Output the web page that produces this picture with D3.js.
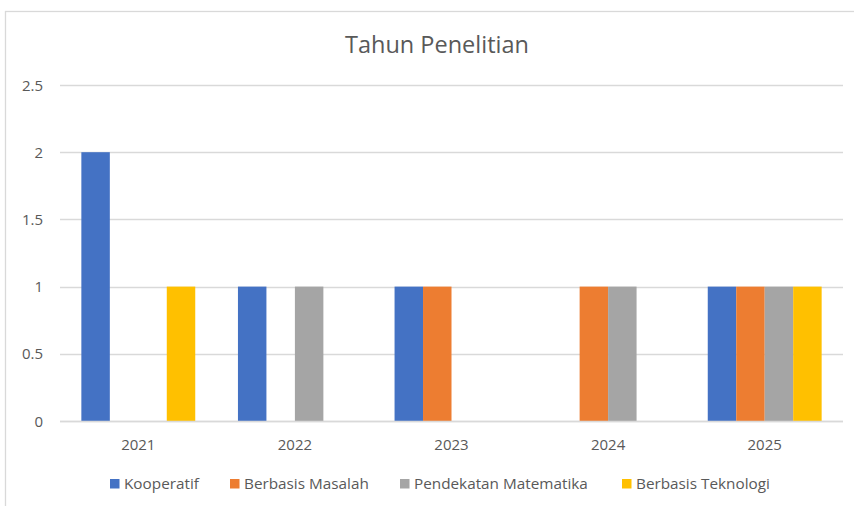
<!DOCTYPE html>
<html><head><meta charset="utf-8">
<script src="https://cdn.jsdelivr.net/npm/d3@7/dist/d3.min.js"></script>
<style>body{margin:0;background:#fff}svg{display:block}text{font-family:"Open Sans",Lato,sans-serif}</style>
</head><body>
<svg id="c" width="854" height="506"></svg>
<script>
const years = ["2021","2022","2023","2024","2025"];
const seriesNames = ["Kooperatif","Berbasis Masalah","Pendekatan Matematika","Berbasis Teknologi"];
const kooperatif = [2,1,1,0,1];
const berbasisMasalah = [0,0,1,1,1];
const pendekatanMatematika = [0,1,0,1,1];
const berbasisTeknologi = [1,0,0,0,1];
const colors = ["#4472C4","#ED7D31","#A5A5A5","#FFC000"];
const yTicks = [0,0.5,1,1.5,2,2.5];
const title = "Tahun Penelitian";

const values = [kooperatif, berbasisMasalah, pendekatanMatematika, berbasisTeknologi];
const svg = d3.select("#c");
// chart border
svg.append("rect").attr("x",5.5).attr("y",11.5).attr("width",900).attr("height",600)
  .attr("fill","#fff").attr("stroke","#D9D9D9").attr("stroke-width",1.3);

const L=60, R=843, T=85, B=421;
const x = d3.scaleBand().domain(years).range([L,R]).padding(0);
const step = x.bandwidth();
const barW = step/(4+1.5);
const xs = d3.scaleBand().domain(seriesNames).range([barW*0.75, step-barW*0.75]).padding(0);
const y = d3.scaleLinear().domain([0,2.5]).range([B,T]);

// gridlines
svg.append("g").selectAll("line").data(yTicks).join("line")
  .attr("x1",L).attr("x2",R).attr("y1",d=>Math.round(y(d))+0.5).attr("y2",d=>Math.round(y(d))+0.5)
  .attr("stroke","#D9D9D9").attr("stroke-width",1.3);
// y labels
svg.append("g").selectAll("text").data(yTicks).join("text")
  .attr("x",43).attr("y",d=>y(d)+5.5).attr("text-anchor","end")
  .attr("fill","#595959").attr("font-size",15).text(d=>d);

// bars
const g = svg.append("g");
seriesNames.forEach((s,si)=>{
  g.append("g").selectAll("rect").data(years.map((yr,i)=>({yr,v:values[si][i]})).filter(d=>d.v>0)).join("rect")
    .attr("x",d=>x(d.yr)+xs(s)).attr("width",xs.bandwidth())
    .attr("y",d=>y(d.v)).attr("height",d=>y(0)-y(d.v)).attr("fill",colors[si]);
});
// baseline
svg.append("line").attr("x1",L).attr("x2",R).attr("y1",Math.round(y(0))+0.5).attr("y2",Math.round(y(0))+0.5)
  .attr("stroke","#D9D9D9").attr("stroke-width",1.3);
// x labels
svg.append("g").selectAll("text").data(years).join("text")
  .attr("x",d=>x(d)+step/2).attr("y",450).attr("text-anchor","middle")
  .attr("fill","#595959").attr("font-size",15).text(d=>d);

// title
svg.append("text").attr("x",437).attr("y",53).attr("text-anchor","middle")
  .attr("fill","#595959").attr("font-size",23.5).text(title);

// legend
const legX = [110,230,400,622];
const lg = svg.append("g");
seriesNames.forEach((s,i)=>{
  lg.append("rect").attr("x",legX[i]).attr("y",479).attr("width",9.5).attr("height",9.5).attr("fill",colors[i]);
  lg.append("text").attr("x",legX[i]+14).attr("y",489).attr("fill","#595959").attr("font-size",15.3).text(s);
});
</script>
</body></html>
